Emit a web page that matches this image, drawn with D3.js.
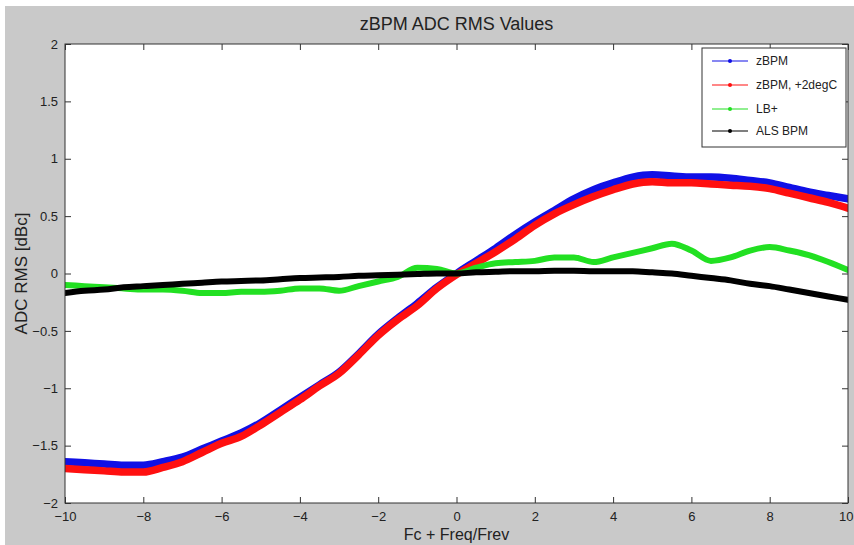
<!DOCTYPE html>
<html>
<head>
<meta charset="utf-8">
<script src="https://cdn.jsdelivr.net/npm/d3@7/dist/d3.min.js"></script>
<style>
  html, body { margin: 0; padding: 0; background: #ffffff; }
  svg { display: block; }
  text { font-family: "Liberation Sans", Arial, sans-serif; }
</style>
</head>
<body>
<svg id="chart" width="854" height="545"></svg>
<script>
// ---- data ----
const freq = [-10,-9.5,-9,-8.5,-8,-7.5,-7,-6.5,-6,-5.5,-5,-4.5,-4,-3.5,-3,-2.5,-2,-1.5,-1,-0.5,0,
              0.5,1,1.5,2,2.5,3,3.5,4,4.5,5,5.5,6,6.5,7,7.5,8,8.5,9,9.5,10];
const zbpm = [-1.64,-1.65,-1.66,-1.67,-1.67,-1.64,-1.60,-1.53,-1.46,-1.39,-1.30,-1.19,-1.08,-0.97,-0.86,-0.70,-0.53,-0.39,-0.26,-0.12,0.00,
              0.11,0.22,0.34,0.45,0.55,0.65,0.73,0.79,0.84,0.86,0.85,0.84,0.84,0.83,0.81,0.79,0.75,0.71,0.68,0.65];
const zbpm2C = [-1.70,-1.71,-1.72,-1.73,-1.73,-1.69,-1.64,-1.56,-1.48,-1.42,-1.32,-1.21,-1.10,-0.98,-0.87,-0.71,-0.54,-0.40,-0.28,-0.13,-0.01,
              0.09,0.19,0.30,0.42,0.52,0.60,0.67,0.73,0.78,0.80,0.79,0.79,0.78,0.77,0.76,0.74,0.70,0.66,0.62,0.57];
const lbPlus = [-0.10,-0.11,-0.12,-0.13,-0.14,-0.14,-0.15,-0.17,-0.17,-0.16,-0.16,-0.15,-0.13,-0.13,-0.15,-0.11,-0.07,-0.03,0.05,0.04,0.00,
              0.05,0.09,0.10,0.11,0.14,0.14,0.10,0.14,0.18,0.22,0.26,0.20,0.11,0.14,0.20,0.23,0.20,0.16,0.10,0.03];
const alsBpm = [-0.17,-0.15,-0.14,-0.12,-0.11,-0.10,-0.09,-0.08,-0.07,-0.065,-0.06,-0.05,-0.04,-0.035,-0.03,-0.02,-0.015,-0.01,-0.005,0.0,0.0,
              0.01,0.015,0.02,0.02,0.025,0.025,0.02,0.02,0.02,0.01,0.0,-0.02,-0.04,-0.06,-0.09,-0.11,-0.14,-0.17,-0.20,-0.23];
const seriesNames = ["zBPM", "zBPM, +2degC", "LB+", "ALS BPM"];
const xTicks = [-10,-8,-6,-4,-2,0,2,4,6,8,10];
const yTicks = [-2,-1.5,-1,-0.5,0,0.5,1,1.5,2];
const titleText = "zBPM ADC RMS Values";
const xLabel = "Fc + Freq/Frev";
const yLabel = "ADC RMS [dBc]";

// ---- layout ----
const W = 854, H = 545;
const L = 65, R = 848, T = 44, B = 503;
const colors = ["#1010e6", "#ff1010", "#22e022", "#000000"];
const widths = [7.5, 7.5, 6, 6];

const svg = d3.select("#chart");
svg.append("rect").attr("x", 5).attr("y", 6).attr("width", W - 5).attr("height", H - 6).attr("fill", "#c9c9c9");

const x = d3.scaleLinear().domain([-10, 10]).range([L, R]);
const y = d3.scaleLinear().domain([-2, 2]).range([B, T]);

svg.append("rect").attr("x", L).attr("y", T).attr("width", R - L).attr("height", B - T).attr("fill", "#ffffff");

const series = [zbpm, zbpm2C, lbPlus, alsBpm];
const line = d3.line().x(d => x(d[0])).y(d => y(d[1])).curve(d3.curveMonotoneX);

const clip = svg.append("clipPath").attr("id", "clip").append("rect")
  .attr("x", L).attr("y", T).attr("width", R - L).attr("height", B - T);
const plot = svg.append("g").attr("clip-path", "url(#clip)");

series.forEach((s, i) => {
  const pts = freq.map((f, j) => [f, s[j]]);
  plot.append("path").datum(pts).attr("d", line)
    .attr("fill", "none").attr("stroke", colors[i]).attr("stroke-width", widths[i])
    .attr("stroke-linejoin", "round").attr("stroke-linecap", "round");
});

// axes (inward ticks, box)
const tickLen = 6;
const axisColor = "#333333";
const ax = svg.append("g");
ax.append("rect").attr("x", L).attr("y", T).attr("width", R - L).attr("height", B - T)
  .attr("fill", "none").attr("stroke", axisColor).attr("stroke-width", 1);

const xb = d3.axisBottom(x).tickValues(xTicks).tickSize(-tickLen).tickPadding(9).tickFormat(d3.format("d"));
const gx = svg.append("g").attr("transform", `translate(0,${B})`).call(xb);
const xt = d3.axisTop(x).tickValues(xTicks).tickSize(-tickLen).tickFormat("");
const gxt = svg.append("g").attr("transform", `translate(0,${T})`).call(xt);
const yl = d3.axisLeft(y).tickValues(yTicks).tickSize(-tickLen).tickPadding(7).tickFormat(d => d3.format("")(d));
const gy = svg.append("g").attr("transform", `translate(${L},0)`).call(yl);
const yr = d3.axisRight(y).tickValues(yTicks).tickSize(-tickLen).tickFormat("");
const gyr = svg.append("g").attr("transform", `translate(${R},0)`).call(yr);
[gx, gxt, gy, gyr].forEach(g => {
  g.select(".domain").remove();
  g.selectAll(".tick line").attr("stroke", axisColor);
  g.selectAll("text").attr("fill", "#222").attr("font-size", 13)
    .attr("font-family", "'Liberation Sans', Arial, sans-serif");
});
// keep the last x tick label inside the page
gx.selectAll(".tick").filter(d => d === 10).select("text").attr("text-anchor", "end").attr("dx", 5);

// titles
svg.append("text").attr("x", (L + R) / 2).attr("y", 30).attr("text-anchor", "middle")
  .attr("font-size", 18).attr("fill", "#222").text(titleText);
svg.append("text").attr("x", (L + R) / 2).attr("y", 540).attr("text-anchor", "middle")
  .attr("font-size", 16).attr("fill", "#222").text(xLabel);
svg.append("text").attr("transform", `translate(27,${(T + B) / 2}) rotate(-90)`).attr("text-anchor", "middle")
  .attr("font-size", 17).attr("fill", "#222").text(yLabel);

// legend
const lg = svg.append("g");
lg.append("rect").attr("x", 702).attr("y", 48).attr("width", 144).attr("height", 99)
  .attr("fill", "#ffffff").attr("stroke", "#333").attr("stroke-width", 1);
const legY = [61, 85, 109, 131];
seriesNames.forEach((n, i) => {
  lg.append("line").attr("x1", 712).attr("x2", 748).attr("y1", legY[i]).attr("y2", legY[i])
    .attr("stroke", colors[i]).attr("stroke-width", 1.2);
  lg.append("circle").attr("cx", 730).attr("cy", legY[i]).attr("r", 2).attr("fill", colors[i]);
  lg.append("text").attr("x", 756).attr("y", legY[i] + 4).attr("font-size", 12).attr("fill", "#222").text(n);
});
</script>
</body>
</html>
